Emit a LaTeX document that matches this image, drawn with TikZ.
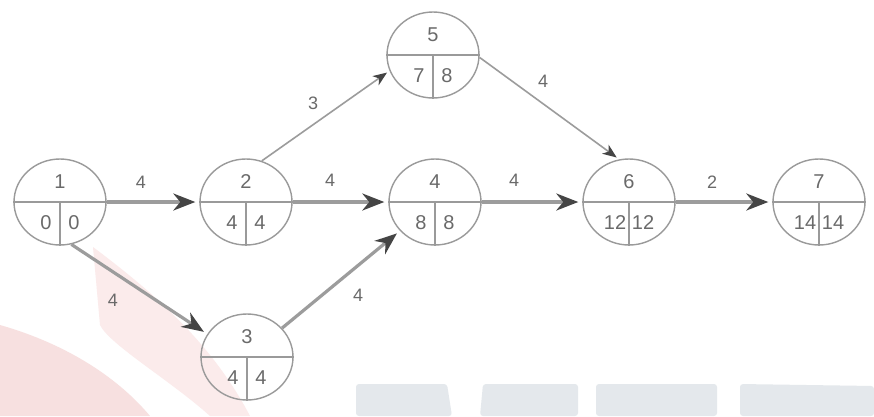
\documentclass[tikz,border=0pt]{standalone}
\usepackage{fontspec}
\setmainfont{Liberation Sans}
\usetikzlibrary{shapes.geometric,arrows.meta}
\definecolor{ringcol}{HTML}{9A9A9A}
\definecolor{txtcol}{HTML}{6A6A6A}
\definecolor{edgecol}{HTML}{9C9C9C}
\definecolor{headcol}{HTML}{454545}
\definecolor{pinkA}{HTML}{F7E0E0}
\definecolor{pinkB}{HTML}{FBEBEB}
\definecolor{bluewm}{HTML}{E4E8EC}
\tikzset{
  evt/.style={ellipse, draw=ringcol, line width=1.4pt, minimum width=92pt, minimum height=86pt, inner sep=0pt},
  divline/.style={draw=ringcol, line width=1.4pt},
  num/.style={text=txtcol, font=\fontsize{20}{20}\selectfont, inner sep=0pt},
  crit/.style={draw=edgecol, line width=3.2pt, -{Stealth[length=22pt,width=17pt,inset=7pt,color=headcol]}, shorten >=4pt},
  norm/.style={draw=edgecol, line width=1.6pt, -{Stealth[length=14pt,width=11pt,inset=4pt,color=headcol]}, shorten >=3pt},
  elab/.style={text=txtcol, font=\fontsize{18}{18}\selectfont, inner sep=0pt}
}
\begin{document}
\begin{tikzpicture}[x=1pt,y=-1pt]
\useasboundingbox (0,0) rectangle (874,416);
\fill[white] (0,0) rectangle (874,416);
% faint watermark
\fill[pinkA] (0,325) .. controls (70,345) and (120,380) .. (150,416) -- (0,416) -- cycle;
\fill[pinkB] (93,247) .. controls (150,290) and (210,340) .. (250,416) -- (210,416) .. controls (170,380) and (110,345) .. (100,325) -- cycle;
\fill[bluewm, rounded corners=3pt] (356,384) -- (447,384) -- (452,416) -- (356,416) -- cycle;
\fill[bluewm, rounded corners=3pt] (483,384) -- (578,384) -- (578,416) -- (480,416) -- cycle;
\fill[bluewm, rounded corners=3pt] (596,384) rectangle (717,416);
\fill[bluewm, rounded corners=3pt] (740,384) -- (874,386) -- (874,416) -- (740,416) -- cycle;

% events
\node[evt] (n1) at (60,202) {};
\node[evt] (n2) at (246,202) {};
\node[evt] (n3) at (247,357) {};
\node[evt] (n4) at (435,202) {};
\node[evt] (n5) at (433,55) {};
\node[evt] (n6) at (629,202) {};
\node[evt] (n7) at (819,202) {};
\foreach \n/\a/\b/\c in {n1/1/0/0, n2/2/4/4, n3/3/4/4, n4/4/8/8, n5/5/7/8, n6/6/12/12, n7/7/14/14}{
  \draw[divline] (\n.west) -- (\n.east);
  \draw[divline] (\n.center) -- (\n.south);
  \node[num] (\n t) at ([yshift=20pt]\n.center) {\a};
  \node[num] (\n l) at ([xshift=-14pt,yshift=-21pt]\n.center) {\b};
  \node[num] (\n r) at ([xshift=14pt,yshift=-21pt]\n.center) {\c};
}

% activities
\draw[crit] (n1) -- (n2);
\draw[crit] (n2) -- (n4);
\draw[crit] (n4) -- (n6);
\draw[crit] (n6) -- (n7);
\draw[crit] (n1.285) -- (n3.150);
\draw[crit] (n3) -- (n4);
\draw[norm] (n2.69) -- (n5.200);
\draw[norm] (n5.357) -- (n6.103);

% labels
\node[elab] (l12) at (141,182) {4};
\node[elab] (l24) at (330,180) {4};
\node[elab] (l46) at (514,180) {4};
\node[elab] (l67) at (712,182) {2};
\node[elab] (l25) at (313,103) {3};
\node[elab] (l56) at (543,81) {4};
\node[elab] (l13) at (113,300) {4};
\node[elab] (l34) at (358,295) {4};
\end{tikzpicture}
\end{document}
